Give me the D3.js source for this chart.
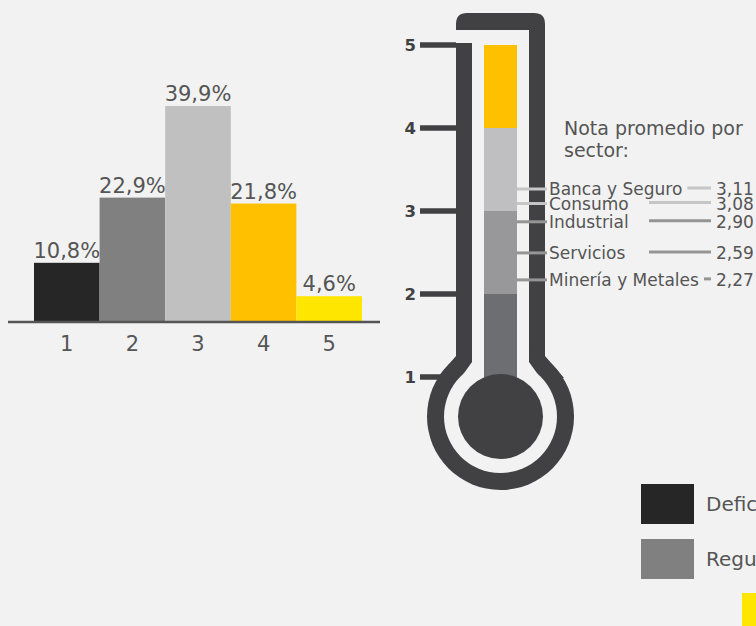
<!DOCTYPE html>
<html>
<head>
<meta charset="utf-8">
<script src="https://cdn.jsdelivr.net/npm/d3@7"></script>
<style>
  body { margin: 0; background: #f2f2f2; }
  svg { display: block; font-family: "DejaVu Sans", Verdana, sans-serif; }
</style>
</head>
<body>
<div id="chart"></div>
<script>
// distribution of grades (bar chart)
const grades = ["1", "2", "3", "4", "5"];
const gradeShares = [10.8, 22.9, 39.9, 21.8, 4.6];
const gradeColors = ["#262626", "#808080", "#c0c0c0", "#ffc000", "#ffe600"];

// thermometer scale
const thermoTicks = [1, 2, 3, 4, 5];
const thermoBands = [[1, 2], [2, 3], [3, 4], [4, 5]];
const bandColors = ["#6d6e71", "#98989b", "#bfbfc1", "#ffc000"];

// average score per sector
const sectorNames = ["Banca y Seguro", "Consumo", "Industrial", "Servicios", "Minería y Metales"];
const sectorScores = [3.11, 3.08, 2.90, 2.59, 2.27];
// where each label sits on the thermometer scale (spread so they do not overlap)
const sectorLabelAt = [3.265, 3.09, 2.87, 2.495, 2.17];

// legend
const legendNames = ["Deficiente", "Regular", "Excelente"];
const legendColors = ["#262626", "#808080", "#ffe600"];

const W = 756, H = 626;
const svg = d3.select("#chart").append("svg")
    .attr("width", W)
    .attr("height", H);

svg.append("rect").attr("width", W).attr("height", H).attr("fill", "#f2f2f2");

// ---------- bar chart ----------
const x = d3.scaleBand()
    .domain(grades)
    .range([34, 362])
    .padding(0);

const y = d3.scaleLinear()
    .domain([0, 40])
    .range([321, 105.5]);

const barData = grades.map((g, i) => ({ g: g, v: gradeShares[i], c: gradeColors[i] }));

svg.append("g")
    .selectAll("rect")
    .data(barData)
    .enter().append("rect")
    .attr("x", d => x(d.g))
    .attr("y", d => y(d.v))
    .attr("width", x.bandwidth())
    .attr("height", d => y(0) - y(d.v))
    .attr("fill", d => d.c);

svg.append("g")
    .selectAll("text")
    .data(barData)
    .enter().append("text")
    .attr("x", d => x(d.g) + x.bandwidth() / 2)
    .attr("y", d => y(d.v) - 5)
    .attr("text-anchor", "middle")
    .attr("font-size", 21)
    .attr("fill", "#555")
    .text(d => d.v.toFixed(1).replace(".", ",") + "%");

// x axis
const xAxis = svg.append("g")
    .attr("transform", `translate(0,${y(0)})`)
    .call(d3.axisBottom(x).tickSize(0).tickPadding(15));
xAxis.select(".domain").remove();
xAxis.selectAll("text")
    .attr("font-size", 21)
    .attr("font-family", "DejaVu Sans, Verdana, sans-serif")
    .attr("fill", "#555");
svg.append("line")
    .attr("x1", 8).attr("x2", 380)
    .attr("y1", y(0) + 1).attr("y2", y(0) + 1)
    .attr("stroke", "#555")
    .attr("stroke-width", 2.5);

// ---------- thermometer ----------
const t = d3.scaleLinear().domain([1, 5]).range([377, 45]);
const dark = "#414143", bg = "#f2f2f2";
const colL = 484, colR = 517, cx = (colL + colR) / 2;
const outerL = 456, outerR = 545, innerL = 472, innerR = 529;
const bulbY = t(1) + 39.5;

// scale ticks
svg.append("g")
    .selectAll("line")
    .data(thermoTicks)
    .enter().append("line")
    .attr("x1", 420).attr("x2", innerL)
    .attr("y1", d => t(d)).attr("y2", d => t(d))
    .attr("stroke", dark)
    .attr("stroke-width", 5.5);

svg.append("g")
    .selectAll("text")
    .data(thermoTicks)
    .enter().append("text")
    .attr("x", 416)
    .attr("y", d => t(d))
    .attr("dy", "0.36em")
    .attr("text-anchor", "end")
    .attr("font-size", 16.5)
    .attr("font-weight", "bold")
    .attr("fill", dark)
    .text(d => d);

// outer body
const topY = t(5) - 32;
svg.append("path")
    .attr("fill", dark)
    .attr("d", `M${outerL},${t(5) - 2} V${topY + 11} Q${outerL},${topY} ${outerL + 11},${topY}
        H${outerR - 11} Q${outerR},${topY} ${outerR},${topY + 11} V${t(1) - 21}
        L${outerR + 19},${t(1) + 1} L${outerL - 19},${t(1) + 1} L${outerL},${t(1) - 21} Z`);
svg.append("circle").attr("cx", cx).attr("cy", bulbY).attr("r", 73.5).attr("fill", dark);

// inner hollow (gap in the left wall near the top)
svg.append("rect")
    .attr("x", outerL).attr("y", topY + 17)
    .attr("width", innerL - outerL).attr("height", t(5) - 2 - (topY + 17))
    .attr("fill", bg);
svg.append("path")
    .attr("fill", bg)
    .attr("d", `M${innerL},${topY + 17} H${innerR} V${t(1) - 15}
        L${innerR + 20},${t(1) + 13} L${innerL - 20},${t(1) + 13} L${innerL},${t(1) - 15} Z`);
svg.append("circle").attr("cx", cx).attr("cy", bulbY).attr("r", 56.5).attr("fill", bg);

// mercury bands
const bandData = thermoBands.map((b, i) => ({ lo: b[0], hi: b[1], c: bandColors[i] }));
svg.append("g")
    .selectAll("rect")
    .data(bandData)
    .enter().append("rect")
    .attr("x", colL)
    .attr("y", d => t(d.hi))
    .attr("width", colR - colL)
    .attr("height", d => t(d.lo) - t(d.hi))
    .attr("fill", d => d.c);
svg.append("circle").attr("cx", cx).attr("cy", bulbY).attr("r", 42.5).attr("fill", dark);

// ---------- sector notes ----------
svg.append("text")
    .attr("x", 564).attr("y", 135)
    .attr("font-size", 19)
    .attr("fill", "#555")
    .selectAll("tspan")
    .data(["Nota promedio por", "sector:"])
    .enter().append("tspan")
    .attr("x", 564)
    .attr("dy", (d, i) => i === 0 ? 0 : 21.5)
    .text(d => d);

const lineColor = v => v >= 3 ? "#c6c6c6" : "#959595";
const sectors = sectorNames.map((n, i) => ({ n: n, v: sectorScores[i], at: sectorLabelAt[i] }));

const sg = svg.append("g")
    .selectAll("g")
    .data(sectors)
    .enter().append("g");

sg.append("line")
    .attr("x1", colR).attr("x2", 547)
    .attr("y1", d => t(d.at)).attr("y2", d => t(d.at))
    .attr("stroke", d => lineColor(d.v))
    .attr("stroke-width", 3);

sg.append("text")
    .attr("class", "sname")
    .attr("x", 549)
    .attr("y", d => t(d.at))
    .attr("dy", "0.36em")
    .attr("font-size", 17)
    .attr("fill", "#555")
    .text(d => d.n);

sg.append("text")
    .attr("x", 716)
    .attr("y", d => t(d.at))
    .attr("dy", "0.36em")
    .attr("font-size", 17)
    .attr("fill", "#555")
    .text(d => d.v.toFixed(2).replace(".", ","));

sg.each(function (d) {
    const g = d3.select(this);
    const bb = g.select(".sname").node().getBBox();
    g.append("line")
        .attr("x1", Math.max(649, bb.x + bb.width + 5)).attr("x2", 711)
        .attr("y1", t(d.at) - 1).attr("y2", t(d.at) - 1)
        .attr("stroke", lineColor(d.v))
        .attr("stroke-width", 3);
});

// ---------- legend ----------
const legendPos = [[641, 484], [641, 539], [742, 593]];
const lg = svg.append("g")
    .selectAll("g")
    .data(legendNames.map((n, i) => ({ n: n, c: legendColors[i], p: legendPos[i] })))
    .enter().append("g")
    .attr("transform", d => `translate(${d.p[0]},${d.p[1]})`);
lg.append("rect")
    .attr("width", 53).attr("height", 40)
    .attr("fill", d => d.c);
lg.append("text")
    .attr("x", 65).attr("y", 20)
    .attr("dy", "0.36em")
    .attr("font-size", 20)
    .attr("fill", "#555")
    .text(d => d.n);
</script>
</body>
</html>
